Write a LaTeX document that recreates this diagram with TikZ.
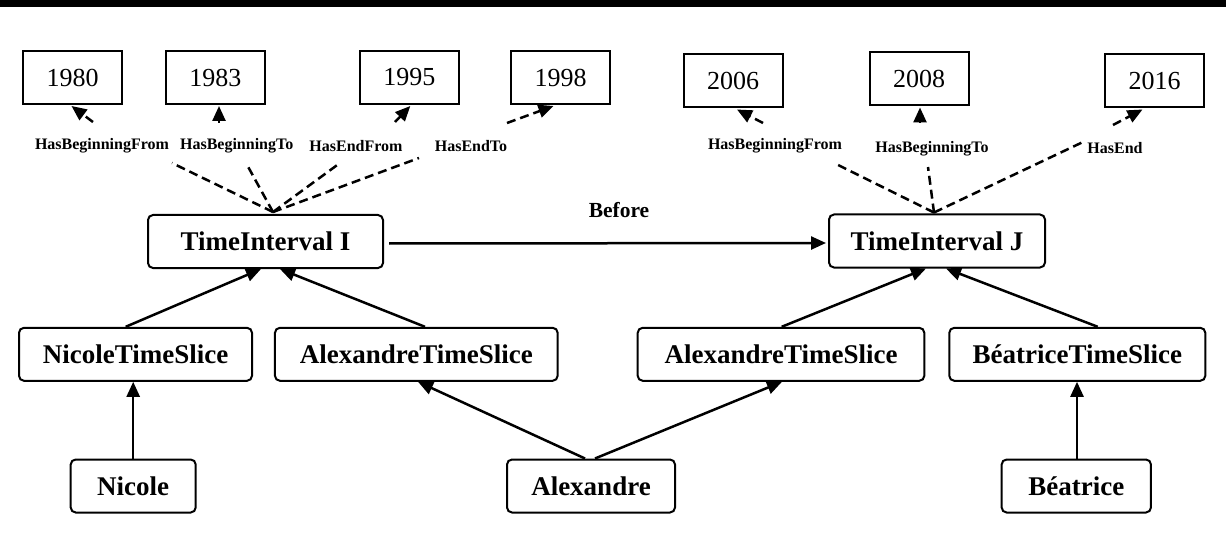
\documentclass[tikz,border=0pt]{standalone}
\usepackage{fontspec}
\setmainfont{Liberation Serif}
\usetikzlibrary{arrows.meta,calc}
\begin{document}
\begin{tikzpicture}[x=1pt,y=-1pt,
  yearbox/.style={draw, line width=2pt, rectangle, minimum width=99pt, minimum height=53pt, inner sep=0pt, font=\fontsize{26}{30}\selectfont},
  cls/.style={draw, line width=2pt, rounded corners=5pt, minimum height=53pt, inner sep=0pt, font=\fontsize{27}{32}\selectfont\bfseries},
  lbl/.style={inner sep=0pt, font=\fontsize{16}{19}\selectfont\bfseries},
  arr/.style={line width=2.5pt, -{Triangle[length=15pt,width=13pt]}},
  dsh/.style={line width=2.5pt, dash pattern=on 9pt off 5pt},
  dsharr/.style={dsh, -{Triangle[length=15pt,width=13pt]}}]
\useasboundingbox (0,0) rectangle (1226,540);
\fill (0,0) rectangle (1226,7);

% year boxes
\node[yearbox] (y1980) at (72.5,77.5) {1980};
\node[yearbox] (y1983) at (215.3,77.5) {1983};
\node[yearbox] (y1995) at (409.3,77.5) {1995};
\node[yearbox] (y1998) at (560.5,77.5) {1998};
\node[yearbox] (y2006) at (733,81) {2006};
\node[yearbox] (y2008) at (919,79) {2008};
\node[yearbox] (y2016) at (1154.5,81) {2016};

% labels
\node[lbl] (l1) at (102,146) {HasBeginningFrom};
\node[lbl] (l2) at (236.7,146) {HasBeginningTo};
\node[lbl] (l3) at (356,146) {HasEndFrom};
\node[lbl] (l4) at (471,146) {HasEndTo};
\node[lbl] (l5) at (775,146) {HasBeginningFrom};
\node[lbl] (l6) at (932,149) {HasBeginningTo};
\node[lbl] (l7) at (1115,148) {HasEnd};
\node[inner sep=0pt, font=\fontsize{21.5}{25}\selectfont\bfseries] (before) at (619,210) {Before};

% class nodes
\node[cls, minimum width=235pt] (TI) at (265.5,241.5) {TimeInterval I};
\node[cls, minimum width=216pt] (TJ) at (937,241) {TimeInterval J};
\node[cls, minimum width=233pt] (NTS) at (135.5,354.3) {NicoleTimeSlice};
\node[cls, minimum width=282.7pt] (ATSL) at (416.3,354.3) {AlexandreTimeSlice};
\node[cls, minimum width=286.6pt] (ATSR) at (781,354.3) {AlexandreTimeSlice};
\node[cls, minimum width=256pt] (BTS) at (1077.3,354.3) {BéatriceTimeSlice};
\node[cls, minimum width=125pt] (N) at (133.2,486) {Nicole};
\node[cls, minimum width=168pt] (A) at (591,486) {Alexandre};
\node[cls, minimum width=149.3pt] (B) at (1076.3,486) {Béatrice};

% dashed connector points
\coordinate (tiTop) at ($(TI.north)+(7.5,-2)$);
\coordinate (tjTop) at ($(TJ.north)+(-3,-1)$);
\coordinate (l1b) at (172,163);
\coordinate (l2b) at (246,163);
\coordinate (l3b) at (340,163);
\coordinate (l4b) at (419,158);
\coordinate (l5b) at (834,163);
\coordinate (l6b) at (928,167);
\coordinate (l7b) at (1083,142);
\coordinate (l1t) at (93,122);
\coordinate (l2t) at (219,123);
\coordinate (l3t) at (395,122);
\coordinate (l4t) at (507,123);
\coordinate (l5t) at (763,123);
\coordinate (l6t) at (920,123);
\coordinate (l7t) at (1113,125);

\draw[dsh] (tiTop) -- (l1b);
\draw[dsh] (tiTop) -- (l2b);
\draw[dsh] (tiTop) -- (l3b);
\draw[dsh] (tiTop) -- (l4b);
\draw[dsh] (tjTop) -- (l5b);
\draw[dsh] (tjTop) -- (l6b);
\draw[dsh] (tjTop) -- (l7b);

\draw[dsharr] (l1t) -- ($(y1980.south)+(-1,1)$);
\draw[dsharr] (l2t) -- ($(y1983.south)+(3.7,1)$);
\draw[dsharr] (l3t) -- ($(y1995.south)+(1,1)$);
\draw[dsharr] (l4t) -- ($(y1998.south)+(-7,1)$);
\draw[dsharr] (l5t) -- ($(y2006.south)+(4,1)$);
\draw[dsharr] (l6t) -- ($(y2008.south)+(1,1)$);
\draw[dsharr] (l7t) -- ($(y2016.south)+(-12,1)$);

% solid arrows
\draw[arr] ($(TI.east)+(5,2)$) -- ($(TJ.west)+(-2,2)$);
\draw[arr] ($(NTS.north)+(-9.8,0)$) -- ($(TI.south)+(-4.5,0)$);
\draw[arr] ($(ATSL.north)+(8.7,0)$) -- ($(TI.south)+(14.5,0)$);
\draw[arr] ($(ATSR.north)+(0.7,0)$) -- ($(TJ.south)+(-11,0)$);
\draw[arr] ($(BTS.north)+(20.4,0)$) -- ($(TJ.south)+(9,0)$);
\draw[arr] (N.north) -- (N.north |- NTS.south);
\draw[arr] ($(A.north)+(-6,0)$) -- ($(ATSL.south)+(1.7,0)$);
\draw[arr] ($(A.north)+(4,0)$) -- ($(ATSR.south)+(1,0)$);
\draw[arr] ($(B.north)+(0.7,0)$) -- ($(BTS.south)+(-0.3,0)$);
\end{tikzpicture}
\end{document}
